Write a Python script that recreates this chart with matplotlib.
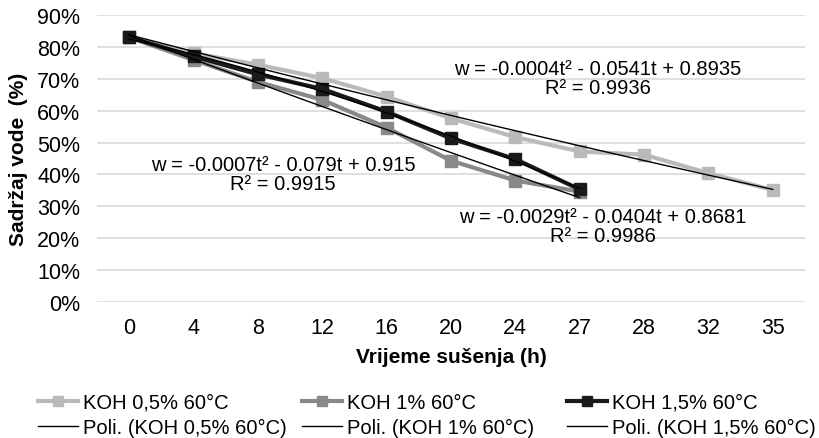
import numpy as np
import matplotlib
matplotlib.use("Agg")
import matplotlib.pyplot as plt
from matplotlib.lines import Line2D

hours = ["0", "4", "8", "12", "16", "20", "24", "27", "28", "32", "35"]
koh05 = [83.0, 78.0, 74.4, 70.2, 64.4, 57.6, 51.7, 47.2, 46.2, 40.4, 35.1]
koh1 = [83.0, 75.9, 69.0, 63.4, 54.7, 44.3, 38.1, 34.6]
koh15 = [83.0, 77.0, 71.4, 66.8, 59.7, 51.3, 44.8, 35.3]
names = ["KOH 0,5% 60°C", "KOH 1% 60°C", "KOH 1,5% 60°C"]
colors = ["#bababa", "#898989", "#1a1a1a"]
eq_texts = [
    "w = -0.0004t² - 0.0541t + 0.8935\nR² = 0.9936",
    "w = -0.0007t² - 0.079t + 0.915\nR² = 0.9915",
    "w = -0.0029t² - 0.0404t + 0.8681\nR² = 0.9986",
]

plt.rcParams['font.family'] = ['Liberation Sans', 'DejaVu Sans']

fig = plt.figure(figsize=(8.2, 4.39), dpi=100)
ax = fig.add_axes([97/820, 1-303/439, (805-97)/820, (303-16)/439])

series = [koh05, koh1, koh15]
handles_s, handles_p = [], []
for vals, c, n in zip(series, colors, names):
    x = np.arange(len(vals))
    ax.plot(x, vals, color=c, lw=3, marker='s', ms=8.5, zorder=3)
    coef = np.polyfit(x + 1, vals, 2)
    xf = np.linspace(0, len(vals) - 1, 100)
    ax.plot(xf, np.polyval(coef, xf + 1), color='black', lw=1, zorder=4)
    handles_s.append(Line2D([], [], color=c, lw=3, marker='s', ms=7))
    handles_p.append(Line2D([], [], color='black', lw=1))

ax.set_xlim(-0.5, len(hours) - 0.5)
ax.set_ylim(0, 90)
ax.set_yticks(np.arange(0, 91, 10))
ax.set_yticklabels([f"{v}%" for v in range(0, 91, 10)])
ax.set_xticks(np.arange(len(hours)))
ax.set_xticklabels(hours)
ax.grid(axis='y', color='#d9d9d9', lw=1.2, zorder=0)
ax.set_axisbelow(True)
for s in ax.spines.values():
    s.set_visible(False)
ax.tick_params(length=0, labelsize=15.5, colors='black', pad=12)
ax.tick_params(axis='x', pad=11)

ax.set_ylabel("Sadržaj vode  (%)", fontsize=15, fontweight='bold')
ax.yaxis.set_label_coords(-69/708, 0.5)
ax.set_xlabel("Vrijeme sušenja (h)", fontsize=15, fontweight='bold')
ax.xaxis.set_label_coords(0.5, -45/287)

def data_y(py):
    return (303 - py) / (303 - 16) * 90
def data_x(px):
    return (px - 129) / 64.4

kw = dict(ha='center', va='center', fontsize=14.5, linespacing=1.05, zorder=5)
ax.text(data_x(598), data_y(79), eq_texts[0], **kw)
ax.text(data_x(283), data_y(175), eq_texts[1], **kw)
ax.text(data_x(603), data_y(227), eq_texts[2], **kw)

col_x = [38, 302, 567]
for i in range(3):
    leg = fig.legend([handles_s[i], handles_p[i]], [names[i], f"Poli. ({names[i]})"],
                     loc='center left', bbox_to_anchor=(col_x[i]/820, 1 - 416/439),
                     frameon=False, fontsize=14.5, handlelength=2.0, handletextpad=0.25,
                     labelspacing=0.3, borderpad=0, borderaxespad=0)

fig.savefig("out.png", dpi=100)
